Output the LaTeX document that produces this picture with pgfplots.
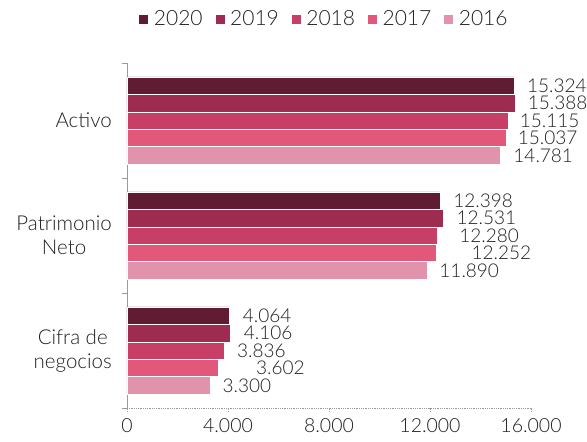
\documentclass[border=0pt]{standalone}
\usepackage{pgfplots}
\usepackage{pgfplotstable}
\pgfplotsset{compat=1.18}
\usepackage{fontspec}
\setmainfont{Lato Light}
\definecolor{cA}{HTML}{5F1C32}
\definecolor{cB}{HTML}{9D2C50}
\definecolor{cC}{HTML}{C73F67}
\definecolor{cD}{HTML}{E2587A}
\definecolor{cE}{HTML}{E093AB}
\definecolor{txt}{HTML}{231F20}
\definecolor{axc}{HTML}{9A9A9A}
% y: 2 = Activo, 1 = Patrimonio Neto, 0 = Cifra de negocios; off = label gap
\pgfplotstableread{
y x off
2 15324 13
1 12398 13
0 4064 13
}\tA
\pgfplotstableread{
y x off
2 15388 12
1 12531 13
0 4106 13
}\tB
\pgfplotstableread{
y x off
2 15115 11
1 12280 22
0 3836 13
}\tC
\pgfplotstableread{
y x off
2 15037 11
1 12252 35
0 3602 38
}\tD
\pgfplotstableread{
y x off
2 14781 13
1 11890 12
0 3300 12
}\tE
\begin{document}
\begin{tikzpicture}
\path[use as bounding box] (-127pt,-34pt) rectangle (460pt,408pt);
\begin{axis}[
  at={(0pt,0pt)}, anchor=south west,
  scale only axis, width=404pt, height=345pt,
  xbar, bar width=0.152,
  xmin=0, xmax=16000, ymin=-0.5, ymax=2.5,
  axis lines*=left,
  tick align=outside,
  /pgf/number format/.cd, fixed, precision=0, 1000 sep={.}, assume math mode=true,
  /pgfplots/.cd,
  scaled x ticks=false,
  xtick={0,4000,8000,12000,16000},
  x axis line style={axc, line width=0.8pt, densely dotted},
  x tick style={axc, line width=0.8pt, densely dotted},
  major tick length=4pt,
  xticklabel style={font=\fontsize{19.5}{22}\selectfont, text=txt, inner sep=0pt, yshift=-6pt},
  ytick={0,1,2},
  yticklabels={{Cifra de\\negocios},{Patrimonio\\Neto},{Activo}},
  yticklabel style={align=center, font=\fontsize{20.5}{24}\selectfont, text=txt, inner sep=0pt, xshift=-11pt},
  y axis line style={axc, line width=0.8pt},
  y tick style={draw=none},
  extra y ticks={-0.5,0.5,1.5,2.5},
  extra y tick labels={},
  extra y tick style={y tick style={draw=axc, line width=0.8pt}, major tick length=5pt},
  visualization depends on={\thisrow{off} \as \myoff},
  nodes near coords,
  point meta=x,
  nodes near coords style={anchor=west, inner sep=0pt, xshift=\myoff pt, font=\fontsize{19}{21}\selectfont, text=txt},
  legend style={at={(0.5,1)}, anchor=center, xshift=-5pt, yshift=44pt, draw=none, fill=none,
    font=\fontsize{21}{24}\selectfont, text=txt, inner sep=0pt,
    /tikz/every odd column/.append style={column sep=3pt},
    /tikz/every even column/.append style={column sep=10pt}},
  legend columns=-1,
  legend image code/.code={\fill[#1] (0pt,-5pt) rectangle (10pt,5pt);},
]
\addplot[fill=cA, draw=white, line width=0.5pt, bar shift=0.304] table[x=x,y=y]{\tA};
\addplot[fill=cB, draw=white, line width=0.5pt, bar shift=0.152] table[x=x,y=y]{\tB};
\addplot[fill=cC, draw=white, line width=0.5pt, bar shift=0] table[x=x,y=y]{\tC};
\addplot[fill=cD, draw=white, line width=0.5pt, bar shift=-0.152] table[x=x,y=y]{\tD};
\addplot[fill=cE, draw=white, line width=0.5pt, bar shift=-0.304] table[x=x,y=y]{\tE};
\legend{2020,2019,2018,2017,2016}
\end{axis}
\end{tikzpicture}
\end{document}
